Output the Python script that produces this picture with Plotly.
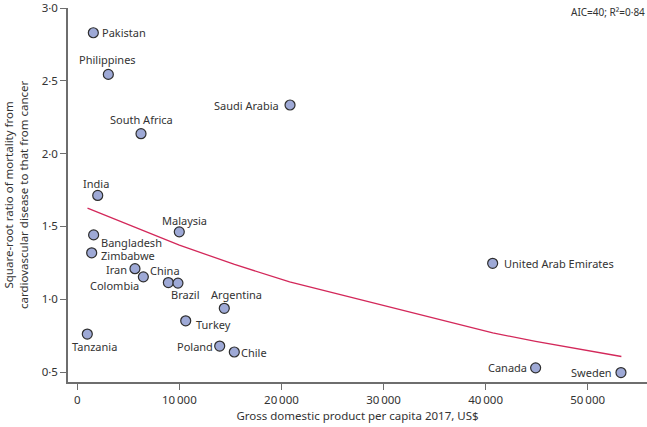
import plotly.graph_objects as go

countries = ["Pakistan", "Philippines", "South Africa", "India", "Malaysia", "Bangladesh",
             "Zimbabwe", "Iran", "China", "Colombia", "Brazil", "Turkey", "Tanzania",
             "Poland", "Chile", "Argentina", "United Arab Emirates", "Canada", "Sweden",
             "Saudi Arabia"]
gdp = [1570, 3040, 6240, 2000, 9990, 1600, 1410, 5650, 8920, 6470, 9860, 10620, 980,
       13950, 15380, 14400, 40690, 44900, 53260, 20840]
ratio = [2.83, 2.544, 2.137, 1.713, 1.463, 1.442, 1.319, 1.210, 1.115, 1.154, 1.111, 0.852,
         0.761, 0.679, 0.638, 0.938, 1.247, 0.529, 0.497, 2.334]

fit_x = [1000, 10000, 15400, 20800, 40700, 44900, 53300]
fit_y = [1.626, 1.372, 1.239, 1.119, 0.769, 0.711, 0.607]

x_ticks = [0, 10000, 20000, 30000, 40000, 50000]
x_ticktext = ["0", "10\u2009000", "20\u2009000", "30\u2009000", "40\u2009000", "50\u2009000"]
y_ticks = [0.5, 1.0, 1.5, 2.0, 2.5, 3.0]
y_ticktext = ["0·5", "1·0", "1·5", "2·0", "2·5", "3·0"]

# label placement (xanchor, yanchor, xshift px, yshift px)
label_pos = {
    "Pakistan": ("left", "middle", 7, 0),
    "Philippines": ("center", "middle", -1, 15),
    "South Africa": ("center", "middle", 0, 14),
    "India": ("center", "middle", -2, 12),
    "Malaysia": ("center", "middle", 5, 11),
    "Bangladesh": ("left", "middle", 5, -8),
    "Zimbabwe": ("left", "middle", 7, -3),
    "Iran": ("right", "middle", -6, -1),
    "China": ("center", "middle", -3, 12),
    "Colombia": ("right", "middle", -2, -9),
    "Brazil": ("center", "middle", 8, -11),
    "Turkey": ("left", "middle", 8, -4),
    "Tanzania": ("center", "middle", 7, -12),
    "Poland": ("right", "middle", -5, 0),
    "Chile": ("left", "middle", 5, 0),
    "Argentina": ("center", "middle", 12, 14),
    "United Arab Emirates": ("left", "middle", 9, 0),
    "Canada": ("right", "middle", -7, 0),
    "Sweden": ("right", "middle", -7, 0),
    "Saudi Arabia": ("right", "middle", -9, 0),
}

FONT = "Noto Sans"
TXT = "#333333"
AX = "#6e6e6e"
W, H = 647, 427
ML, MR, MT, MB = 68, 0, 5, 45

fig = go.Figure()
fig.add_trace(go.Scatter(x=fit_x, y=fit_y, mode="lines",
                         line=dict(color="#d3285a", width=1.3), hoverinfo="skip"))
fig.add_trace(go.Scatter(x=gdp, y=ratio, mode="markers", text=countries,
                         marker=dict(size=10, color="#9ea9d6",
                                     line=dict(color="#2e2e2e", width=1.2))))

annotations = []
for c, xv, yv in zip(countries, gdp, ratio):
    xa, ya, dx, dy = label_pos[c]
    annotations.append(dict(x=xv, y=yv, xref="x", yref="y", text=c, showarrow=False,
                            xanchor=xa, yanchor=ya, xshift=dx, yshift=dy,
                            font=dict(family=FONT, size=11, color=TXT)))
annotations.append(dict(x=1, y=1, xref="paper", yref="paper", text="AIC=40; R²=0·84",
                        showarrow=False, xanchor="right", yanchor="middle", yshift=-4,
                        font=dict(family=FONT, size=10, color=TXT)))
annotations.append(dict(x=(16 - ML) / (W - ML - MR), y=0.5, xref="paper", yref="paper",
                        text="Square-root ratio of mortality from<br>cardiovascular disease to that from cancer",
                        showarrow=False, textangle=-90, xanchor="center", yanchor="middle",
                        font=dict(family=FONT, size=11.5, color=TXT)))
fig.update_layout(annotations=annotations)

fig.update_layout(
    width=W, height=H,
    margin=dict(l=ML, r=MR, t=MT, b=MB),
    paper_bgcolor="white", plot_bgcolor="white",
    showlegend=False,
    font=dict(family=FONT, size=11, color=TXT),
    xaxis=dict(range=[-911, 55810], tickvals=x_ticks, ticktext=x_ticktext,
               showgrid=False, zeroline=False, showline=True, linecolor=AX, linewidth=1.5,
               ticks="outside", ticklen=6, tickcolor=AX, tickwidth=1.2,
               ticklabeloverflow="allow",
               tickfont=dict(family=FONT, size=11.5, color=TXT),
               title=dict(text="Gross domestic product per capita 2017, US$", standoff=6,
                          font=dict(family=FONT, size=11.5, color=TXT))),
    yaxis=dict(range=[0.432, 3.0], tickvals=y_ticks, ticktext=y_ticktext,
               showgrid=False, zeroline=False, showline=True, linecolor=AX, linewidth=1.5,
               ticks="outside", ticklen=6, tickcolor=AX, tickwidth=1.2,
               ticklabeloverflow="allow",
               tickfont=dict(family=FONT, size=11.5, color=TXT)),
)

fig.write_html("out.html", config={"displayModeBar": False},
               post_script="document.body.style.margin='0';")
